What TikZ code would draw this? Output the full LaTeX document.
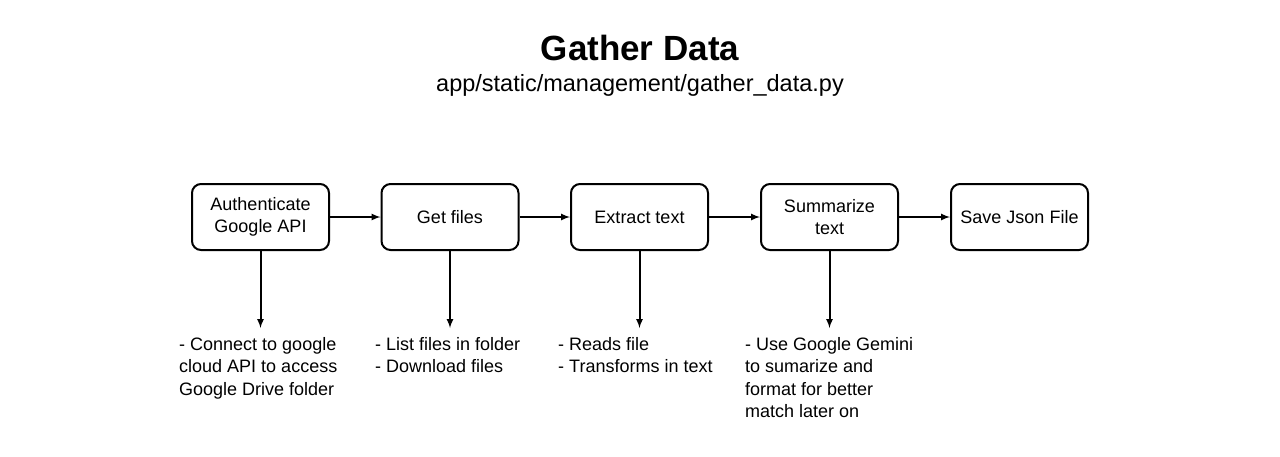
\documentclass[tikz,border=0pt]{standalone}
\usepackage{fontspec}
\setmainfont{Liberation Sans}
\usetikzlibrary{arrows}

\begin{document}
\begin{tikzpicture}[x=1pt,y=-1pt,>=latex]
\tikzstyle{every node}=[inner sep=0pt, font=\fontsize{18}{22.4}\selectfont]
\tikzstyle{step box}=[draw, line width=2pt, rounded corners=9pt, minimum width=137pt, minimum height=66pt, align=center]
\tikzstyle{note}=[anchor=north west, align=left]
\tikzstyle{flow}=[->, line width=2pt]
\useasboundingbox (0,0) rectangle (1280,456);
\draw (640,48) node (title) [font=\fontsize{35}{40}\bfseries] {Gather Data};
\draw (640,85) node (path) [font=\fontsize{23.5}{26}\selectfont] {app/static/management/gather\_data.py};
\draw (260.5,217) node (auth) [step box] {Authenticate\\Google API};
\draw (450,217) node (get) [step box] {Get files};
\draw (639.5,217) node (extract) [step box] {Extract text};
\draw (829.5,217) node (summ) [step box] {Summarize\\text};
\draw (1019.5,217) node (save) [step box] {Save Json File};
\draw (179,337) node (nauth) [note] {- Connect to google\\cloud API to access\\Google Drive folder};
\draw (375,337) node (nget) [note] {- List files in folder\\- Download files};
\draw (558,337) node (nextract) [note] {- Reads file\\- Transforms in text};
\draw (745,337) node (nsumm) [note] {- Use Google Gemini\\to sumarize and\\format for better\\match later on};
\draw[flow] (auth) -- (get);
\draw[flow] (get) -- (extract);
\draw[flow] (extract) -- (summ);
\draw[flow] (summ) -- (save);
\draw[flow,shorten >=9pt] (auth.south) -- (auth.south |- nauth.north);
\draw[flow,shorten >=9pt] (get.south) -- (get.south |- nget.north);
\draw[flow,shorten >=9pt] (extract.south) -- (extract.south |- nextract.north);
\draw[flow,shorten >=9pt] (summ.south) -- (summ.south |- nsumm.north);
\end{tikzpicture}
\end{document}
